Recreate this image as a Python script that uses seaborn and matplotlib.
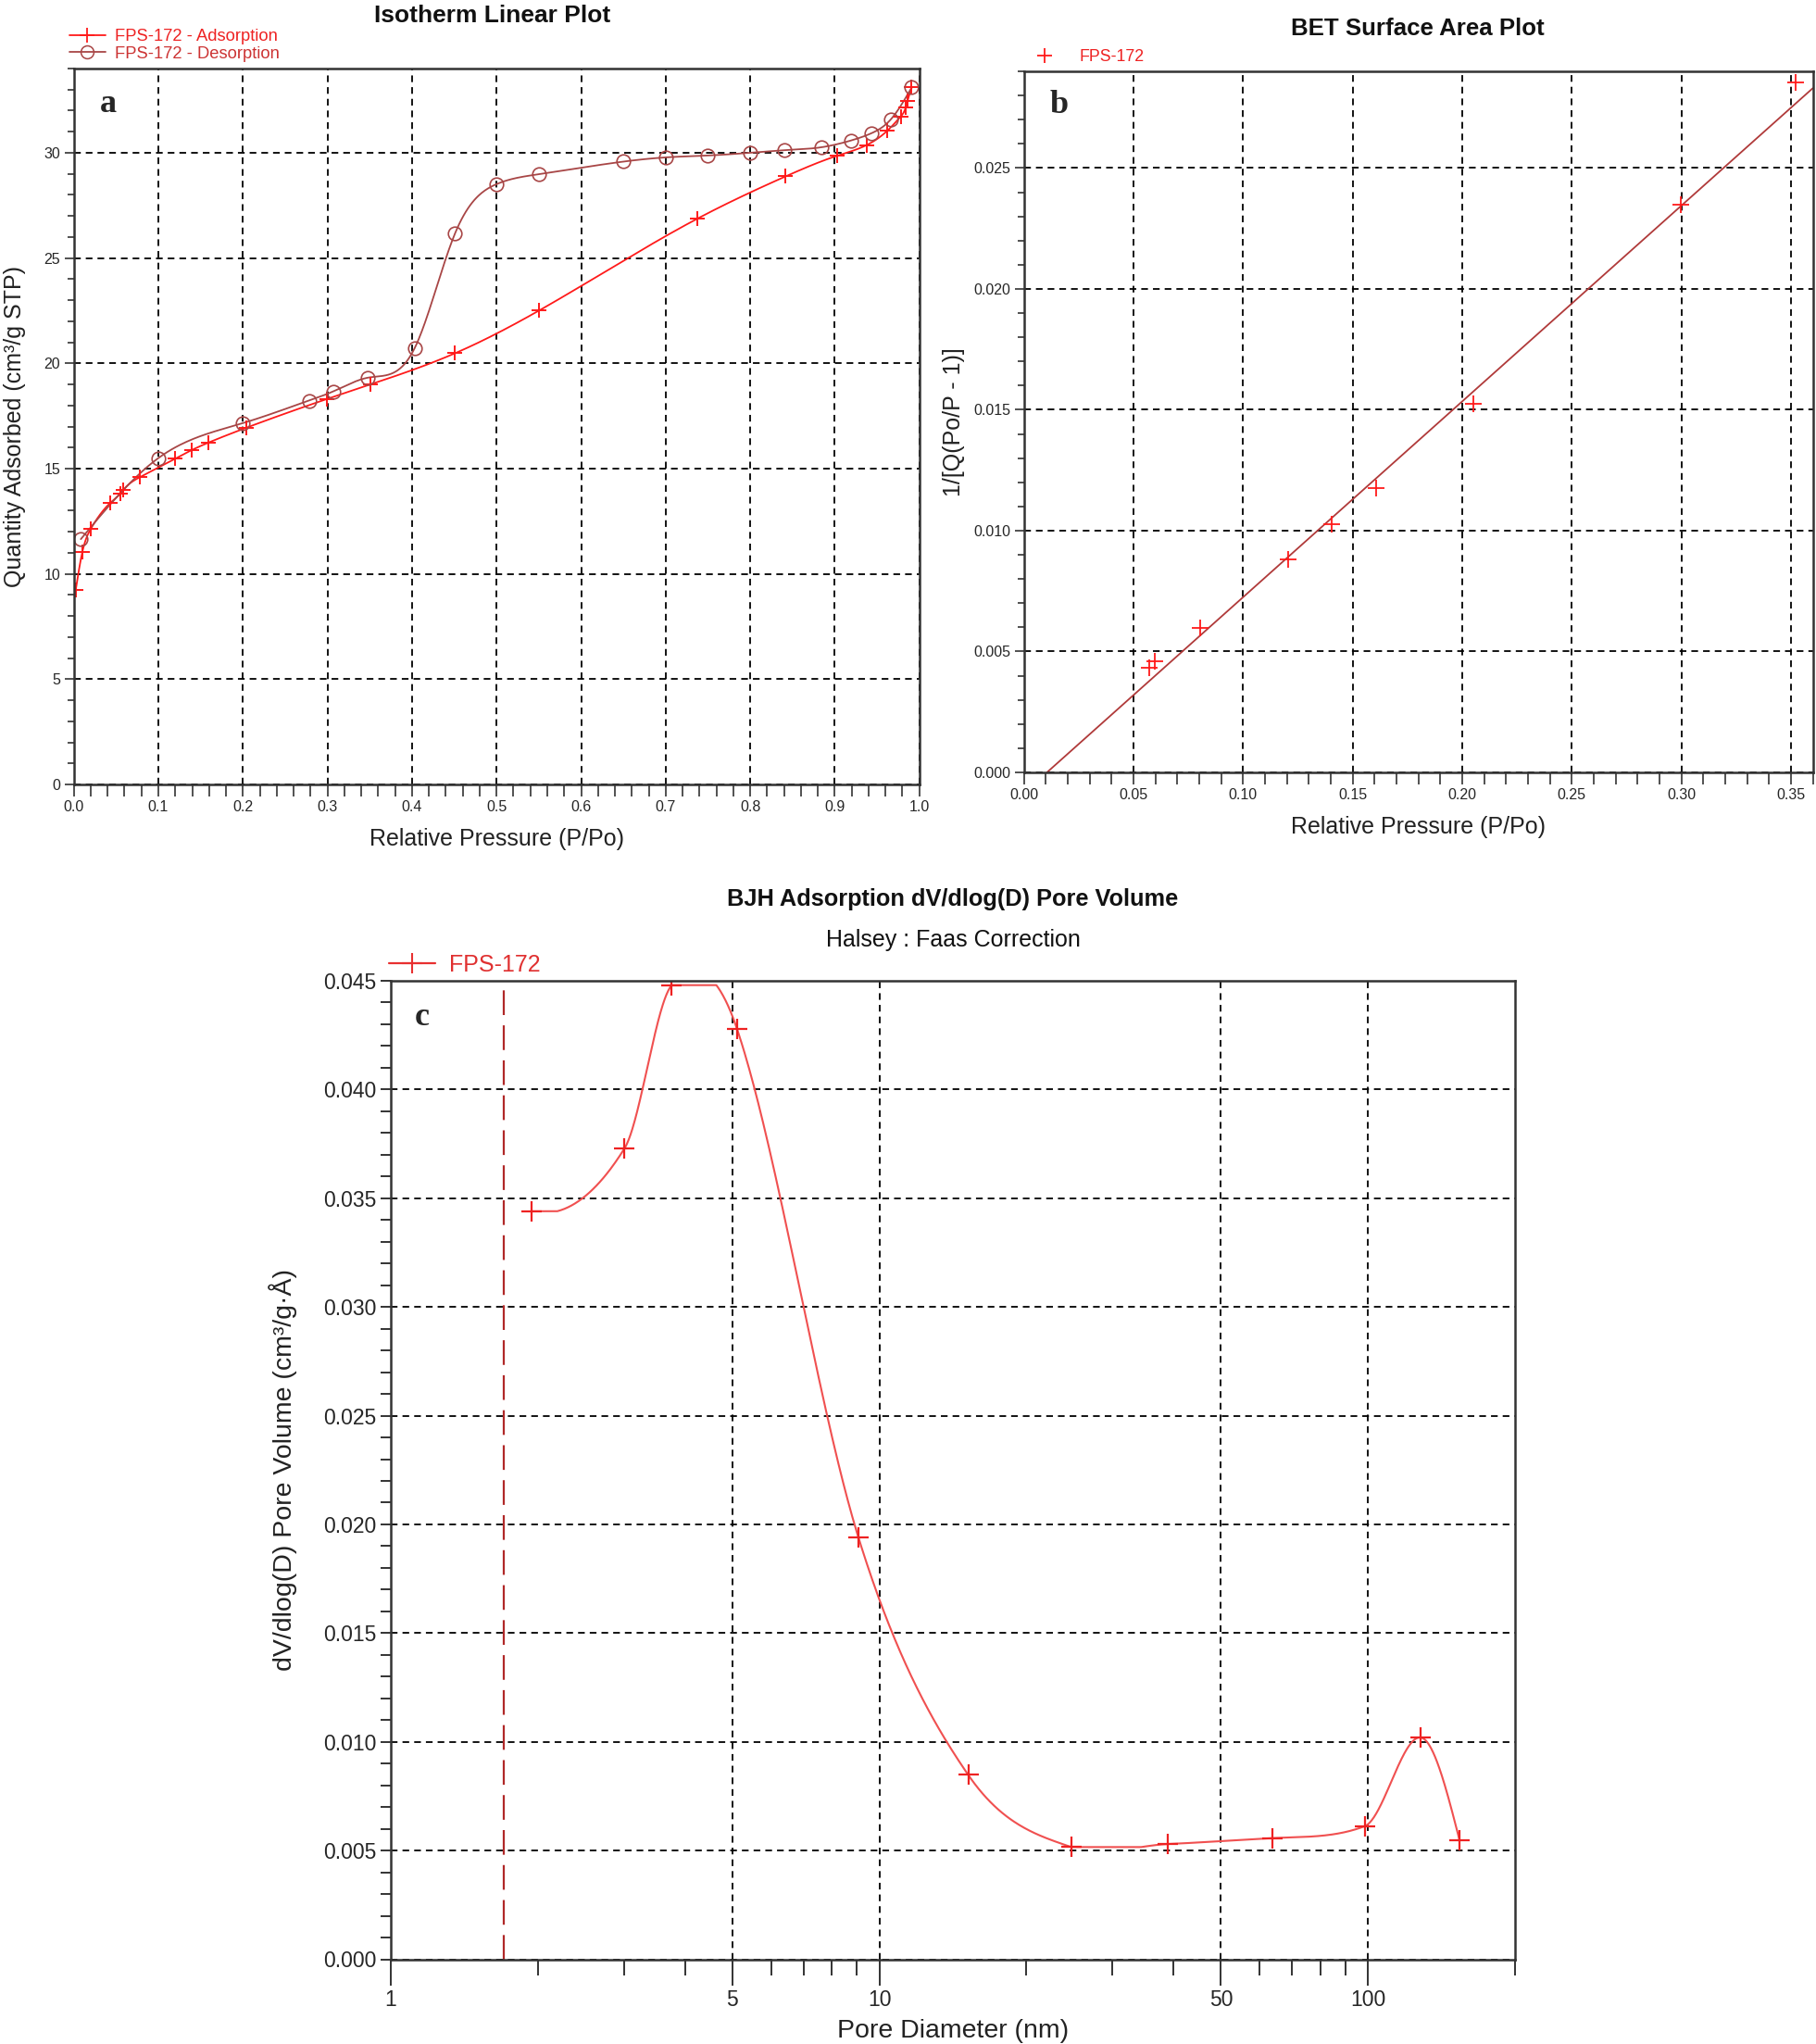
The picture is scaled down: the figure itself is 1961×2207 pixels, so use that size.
import numpy as np
import pandas as pd
import matplotlib
matplotlib.use("Agg")
import matplotlib.pyplot as plt
import seaborn as sns
from matplotlib.lines import Line2D
from matplotlib.ticker import MultipleLocator, FixedLocator, NullFormatter, FixedFormatter

# ---------------- data ----------------
# (a) isotherm
ads_p = [0.0022, 0.0102, 0.0204, 0.0434, 0.0552, 0.0588, 0.078, 0.120, 0.139, 0.159, 0.204,
         0.299, 0.351, 0.451, 0.550, 0.738, 0.842, 0.903, 0.938, 0.962, 0.978, 0.984, 0.986, 0.991]
ads_q = [9.22, 11.06, 12.16, 13.38, 13.82, 14.0, 14.59, 15.47, 15.87, 16.23, 16.94,
         18.30, 19.0, 20.48, 22.5, 26.88, 28.88, 29.86, 30.37, 31.04, 31.72, 32.16, 32.45, 33.1]
des_p = [0.0083, 0.100, 0.200, 0.278, 0.307, 0.348, 0.403, 0.451, 0.500, 0.550, 0.650, 0.700,
         0.750, 0.800, 0.840, 0.884, 0.919, 0.943, 0.966, 0.991]
des_q = [11.65, 15.5, 17.16, 18.23, 18.67, 19.32, 20.71, 26.18, 28.51, 28.98, 29.58, 29.78,
         29.87, 30.0, 30.12, 30.26, 30.58, 30.92, 31.57, 33.1]

# (b) BET
bet_p = [0.0573, 0.0597, 0.0803, 0.1206, 0.1405, 0.1606, 0.2050, 0.2998, 0.3520]
bet_v = [0.00433, 0.00459, 0.00596, 0.00881, 0.01026, 0.01176, 0.01523, 0.02350, 0.02855]
bet_fit_p = [0.0105, 0.36]
bet_fit_v = [0.0, 0.0283]

# (c) BJH
bjh_d = [1.94, 3.01, 3.76, 5.11, 9.06, 15.2, 24.7, 39.0, 63.7, 98.5, 128.3, 154.0]
bjh_v = [0.0344, 0.0373, 0.0448, 0.0428, 0.0194, 0.00848, 0.00516, 0.0053, 0.00557,
         0.00612, 0.0102, 0.00547]
bjh_marker_d = 1.70

a_xticks = [0.0, 0.1, 0.2, 0.3, 0.4, 0.5, 0.6, 0.7, 0.8, 0.9, 1.0]
a_yticks = [0, 5, 10, 15, 20, 25, 30]
b_xticks = [0.00, 0.05, 0.10, 0.15, 0.20, 0.25, 0.30, 0.35]
b_yticks = [0.000, 0.005, 0.010, 0.015, 0.020, 0.025]
c_xticks = [1, 5, 10, 50, 100]
c_xminor = [2, 3, 4, 6, 7, 8, 9, 20, 30, 40, 60, 70, 80, 90, 200]
c_yticks = [0.000, 0.005, 0.010, 0.015, 0.020, 0.025, 0.030, 0.035, 0.040, 0.045]


def smooth(x, y, n=40):
    """Natural cubic spline through the points, each span clipped to its end values."""
    x = np.asarray(x, float); y = np.asarray(y, float)
    m = len(x); h = np.diff(x)
    A = np.zeros((m, m)); r = np.zeros(m)
    A[0, 0] = A[-1, -1] = 1.0
    for i in range(1, m - 1):
        A[i, i - 1] = h[i - 1]; A[i, i] = 2 * (h[i - 1] + h[i]); A[i, i + 1] = h[i]
        r[i] = 6 * ((y[i + 1] - y[i]) / h[i] - (y[i] - y[i - 1]) / h[i - 1])
    M = np.linalg.solve(A, r)
    xs, ys = [], []
    for i in range(m - 1):
        t = np.linspace(x[i], x[i + 1], n)
        s = (M[i] * (x[i + 1] - t) ** 3 / (6 * h[i]) + M[i + 1] * (t - x[i]) ** 3 / (6 * h[i])
             + (y[i] / h[i] - M[i] * h[i] / 6) * (x[i + 1] - t)
             + (y[i + 1] / h[i] - M[i + 1] * h[i] / 6) * (t - x[i]))
        s = np.clip(s, min(y[i], y[i + 1]), max(y[i], y[i + 1]))
        xs.append(t); ys.append(s)
    return np.concatenate(xs), np.concatenate(ys)


def hermite(x, y, n=80):
    """Cardinal cubic Hermite curve through the points, limited and clipped per span."""
    x = np.asarray(x, float); y = np.asarray(y, float)
    m = len(x); h = np.diff(x); d = np.diff(y) / h
    t = np.zeros(m)
    for i in range(1, m - 1):
        t[i] = (y[i + 1] - y[i - 1]) / (x[i + 1] - x[i - 1])
    t[0] = 2 * d[0] - t[1]
    t[-1] = (3 * d[-1] - t[-2]) / 2
    for k in range(m - 1):
        if d[k] != 0:
            a, b = t[k] / d[k], t[k + 1] / d[k]
            if a > 0 and b > 0 and a * a + b * b > 9:
                tau = 3 / np.sqrt(a * a + b * b)
                t[k] = tau * a * d[k]; t[k + 1] = tau * b * d[k]
    xs, ys = [], []
    for k in range(m - 1):
        s = np.linspace(0, 1, n)
        h00 = 2 * s ** 3 - 3 * s ** 2 + 1; h10 = s ** 3 - 2 * s ** 2 + s
        h01 = -2 * s ** 3 + 3 * s ** 2; h11 = s ** 3 - s ** 2
        v = h00 * y[k] + h10 * h[k] * t[k] + h01 * y[k + 1] + h11 * h[k] * t[k + 1]
        v = np.clip(v, min(y[k], y[k + 1]), max(y[k], y[k + 1]))
        xs.append(x[k] + s * h[k]); ys.append(v)
    return np.concatenate(xs), np.concatenate(ys)


sns.set_theme(style="ticks")
plt.rcParams["font.family"] = ["Liberation Sans", "DejaVu Sans"]
plt.rcParams["axes.linewidth"] = 1.8
plt.rcParams["axes.edgecolor"] = "#333333"

W, H = 1961, 2207
fig = plt.figure(figsize=(W / 100, H / 100), dpi=100)


def rect(l, t, r, b):
    return [l / W, 1 - b / H, (r - l) / W, (b - t) / H]


GRID = dict(color="black", linestyle=(0, (4, 3)), linewidth=1.3)
RED = "#ff1a1a"
BROWN = "#a84646"

# ---------------- panel a ----------------
axa = fig.add_axes(rect(79.7, 74, 992.7, 847))
sx, sy = smooth(ads_p, ads_q)
sns.lineplot(x=sx, y=sy, ax=axa, color=RED, lw=1.3, estimator=None, sort=False)
sx, sy = smooth(des_p, des_q)
sns.lineplot(x=sx, y=sy, ax=axa, color=BROWN, lw=1.3, estimator=None, sort=False)
sns.lineplot(x=ads_p, y=ads_q, ax=axa, estimator=None, sort=False, linestyle="", marker="+",
             markersize=12, markeredgewidth=1.4, markeredgecolor=RED, color=RED)
sns.lineplot(x=des_p, y=des_q, ax=axa, estimator=None, sort=False, linestyle="", marker="o",
             markersize=10.5, markeredgewidth=1.2, markeredgecolor=BROWN,
             markerfacecolor="none", color=BROWN)
axa.set_xlim(0, 1.0)
axa.set_ylim(0, 34)
axa.xaxis.set_major_locator(FixedLocator(a_xticks))
axa.xaxis.set_minor_locator(MultipleLocator(0.02))
axa.yaxis.set_major_locator(FixedLocator(a_yticks))
axa.yaxis.set_minor_locator(MultipleLocator(1))
axa.set_xticklabels([f"{v:.1f}" for v in a_xticks])
axa.set_yticklabels([str(v) for v in a_yticks])
axa.grid(True, which="major", **GRID)
axa.tick_params(which="both", direction="out", labelsize=11.5, width=1.2, color="#333333")
axa.tick_params(axis="x", which="both", length=9)
axa.tick_params(axis="y", which="major", length=7)
axa.tick_params(axis="y", which="minor", length=5)
axa.set_xlabel("Relative Pressure (P/Po)", fontsize=18, color="#222222")
axa.set_ylabel("Quantity Adsorbed (cm³/g STP)", fontsize=18, color="#222222")
axa.xaxis.set_label_coords(0.5, -0.061)
axa.yaxis.set_label_coords(-0.057, 0.5)
axa.text(0.041, 0.95, "a", transform=axa.transAxes, ha="center", va="center",
         fontfamily="Liberation Serif", fontweight="bold", fontsize=26)
fig.text(532 / W, 1 - 17 / H, "Isotherm Linear Plot", ha="center", va="center",
         fontsize=19, fontweight="bold", color="#111111")
ha = [Line2D([], [], color=RED, marker="+", markersize=12, markeredgewidth=1.3, lw=1.3),
      Line2D([], [], color=BROWN, marker="o", markersize=10, markerfacecolor="none",
             markeredgewidth=1.1, lw=1.3)]
leg = axa.legend(ha, ["FPS-172 - Adsorption", "FPS-172 - Desorption"], loc="upper left",
                 bbox_to_anchor=(75 / W, 1 - 31 / H), bbox_transform=fig.transFigure,
                 frameon=False, fontsize=13.2, handlelength=2.1, handletextpad=0.6,
                 labelspacing=0.1, borderpad=0, borderaxespad=0)
for t, c in zip(leg.get_texts(), ["#ee2222", "#cc3333"]):
    t.set_color(c)

# ---------------- panel b ----------------
axb = fig.add_axes(rect(1105.7, 77, 1957.5, 834))
sns.lineplot(x=bet_fit_p, y=bet_fit_v, ax=axb, color="#b03a3a", lw=1.3, estimator=None, sort=False)
sns.lineplot(x=bet_p, y=bet_v, ax=axb, estimator=None, sort=False, linestyle="", marker="+",
             markersize=13, markeredgewidth=1.3, markeredgecolor=RED, color=RED)
axb.set_xlim(0, 0.36)
axb.set_ylim(0, 0.029)
axb.xaxis.set_major_locator(FixedLocator(b_xticks))
axb.xaxis.set_minor_locator(MultipleLocator(0.01))
axb.yaxis.set_major_locator(FixedLocator(b_yticks))
axb.yaxis.set_minor_locator(MultipleLocator(0.001))
axb.set_xticklabels([f"{v:.2f}" for v in b_xticks])
axb.set_yticklabels([f"{v:.3f}" for v in b_yticks])
axb.grid(True, which="major", **GRID)
axb.tick_params(which="both", direction="out", labelsize=11.5, width=1.2, color="#333333")
axb.tick_params(axis="x", which="both", length=9)
axb.tick_params(axis="y", which="major", length=7)
axb.tick_params(axis="y", which="minor", length=5)
axb.set_xlabel("Relative Pressure (P/Po)", fontsize=18, color="#222222")
axb.set_ylabel("1/[Q(Po/P - 1)]", fontsize=18, color="#222222")
axb.xaxis.set_label_coords(0.5, -0.062)
axb.yaxis.set_label_coords(-0.075, 0.5)
axb.text(0.044, 0.952, "b", transform=axb.transAxes, ha="center", va="center",
         fontfamily="Liberation Serif", fontweight="bold", fontsize=26)
fig.text(1531 / W, 1 - 31 / H, "BET Surface Area Plot", ha="center", va="center",
         fontsize=18.6, fontweight="bold", color="#111111")
hb = [Line2D([], [], color=RED, marker="+", markersize=12, markeredgewidth=1.3, lw=0)]
leg = axb.legend(hb, ["FPS-172"], loc="upper left",
                 bbox_to_anchor=(1116 / W, 1 - 53 / H), bbox_transform=fig.transFigure,
                 frameon=False, fontsize=12.8, handlelength=1.4, handletextpad=1.4,
                 borderpad=0, borderaxespad=0)
leg.get_texts()[0].set_color("#ee2222")

# ---------------- panel c ----------------
axc = fig.add_axes(rect(422, 1059, 1636, 2115.5))
axc.set_xscale("log")
lx, ly = hermite(np.log10(bjh_d), bjh_v)
sns.lineplot(x=10 ** lx, y=ly, ax=axc, color="#f05050", lw=1.5, estimator=None, sort=False)
sns.lineplot(x=bjh_d, y=bjh_v, ax=axc, estimator=None, sort=False, linestyle="", marker="+",
             markersize=16, markeredgewidth=1.6, markeredgecolor="#ee2222", color="#ee2222")
axc.axvline(bjh_marker_d, color="#b02828", lw=1.6, linestyle=(0, (12, 5)))
axc.set_xlim(1, 200)
axc.set_ylim(0, 0.045)
axc.xaxis.set_major_locator(FixedLocator(c_xticks))
axc.xaxis.set_major_formatter(FixedFormatter([str(v) for v in c_xticks]))
axc.xaxis.set_minor_locator(FixedLocator(c_xminor))
axc.xaxis.set_minor_formatter(NullFormatter())
axc.yaxis.set_major_locator(FixedLocator(c_yticks))
axc.yaxis.set_minor_locator(MultipleLocator(0.001))
axc.set_yticklabels([f"{v:.3f}" for v in c_yticks])
axc.grid(True, which="major", **GRID)
axc.tick_params(which="both", direction="out", labelsize=16.5, width=1.4, color="#333333")
axc.tick_params(axis="x", which="major", length=20)
axc.tick_params(axis="x", which="minor", length=12)
axc.tick_params(axis="y", which="both", length=8)
axc.set_xlabel("Pore Diameter (nm)", fontsize=20.5, color="#222222")
axc.set_ylabel("dV/dlog(D) Pore Volume (cm³/g·Å)", fontsize=20.5, color="#222222")
axc.xaxis.set_label_coords(0.5, -0.0615)
axc.yaxis.set_label_coords(-0.083, 0.5)
axc.text(0.028, 0.963, "c", transform=axc.transAxes, ha="center", va="center",
         fontfamily="Liberation Serif", fontweight="bold", fontsize=26)
fig.text(1029 / W, 1 - 971 / H, "BJH Adsorption dV/dlog(D) Pore Volume", ha="center",
         va="center", fontsize=18.3, fontweight="bold", color="#111111")
fig.text(1029 / W, 1 - 1015 / H, "Halsey : Faas Correction", ha="center", va="center",
         fontsize=18, color="#111111")
hc = [Line2D([], [], color="#e83030", marker="+", markersize=16, markeredgewidth=1.5, lw=1.6)]
leg = axc.legend(hc, ["FPS-172"], loc="upper left",
                 bbox_to_anchor=(420 / W, 1 - 1030 / H), bbox_transform=fig.transFigure,
                 frameon=False, fontsize=18, handlelength=2.0, handletextpad=0.6,
                 borderpad=0, borderaxespad=0)
leg.get_texts()[0].set_color("#e03030")

fig.savefig("out.png", dpi=100)
